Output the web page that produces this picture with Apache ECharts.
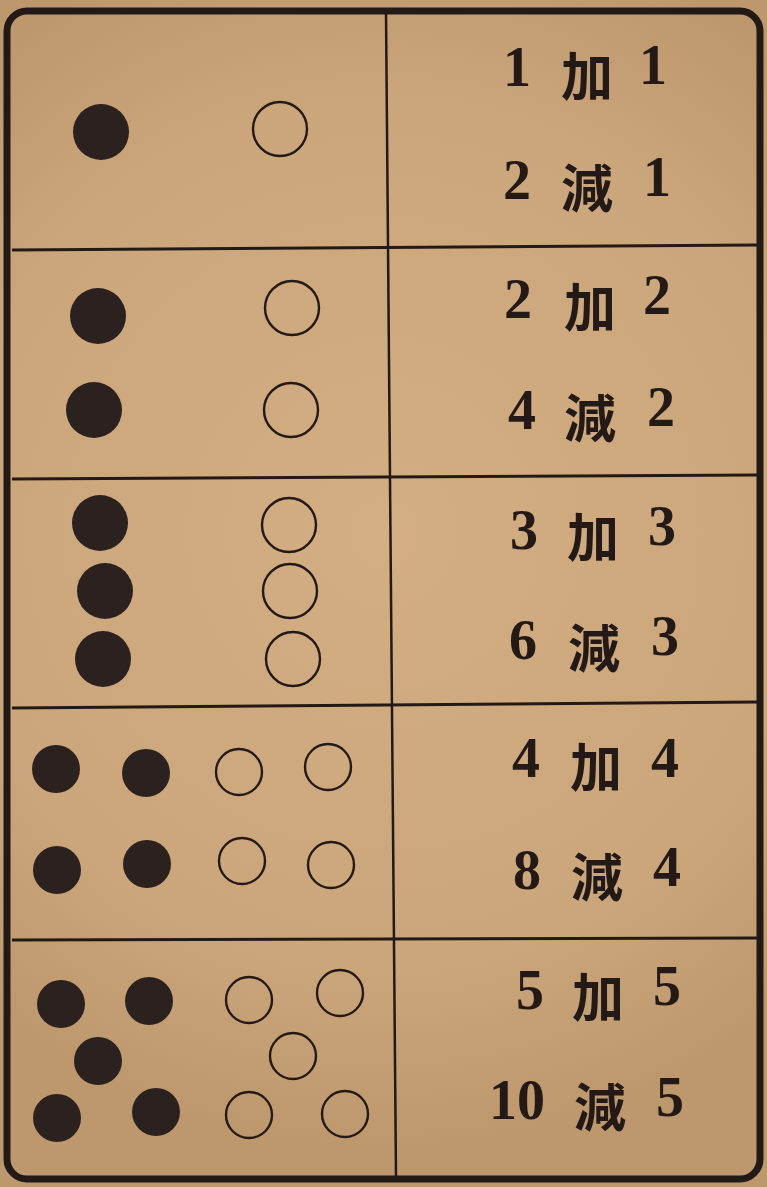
<!DOCTYPE html>
<html>
<head>
<meta charset="utf-8">
<script src="https://cdn.jsdelivr.net/npm/echarts@6/dist/echarts.min.js"></script>
<style>
html,body{margin:0;padding:0;background:#c9a57b;}
#c{width:767px;height:1187px;}
</style>
</head>
<body>
<div id="c"></div>
<script>
// ---- data ----
// filled (counted) dots: [x, y, panel]
const filledDots = [
  [101,132,1],
  [98,316,2],[94,410,2],
  [100,523,3],[105,591,3],[103,659,3],
  [56,769,4],[146,773,4],[57,870,4],[147,864,4],
  [61,1004,5],[149,1001,5],[98,1061,5],[57,1118,5],[156,1112,5]
];
// hollow dots: [x, y, panel]
const hollowDots = [
  [280,129,1],
  [292,308,2],[291,410,2],
  [289,525,3],[290,591,3],[293,659,3],
  [239,772,4],[328,767,4],[242,861,4],[331,865,4],
  [249,1000,5],[340,993,5],[293,1056,5],[249,1115,5],[345,1114,5]
];
// expressions: left operand, operator, right operand
const leftNums  = ["1","2","2","4","3","6","4","8","5","10"];
const operators = ["加","減","加","減","加","減","加","減","加","減"];
const rightNums = ["1","1","2","2","3","3","4","4","5","5"];
// anchor positions of each token per row
const leftPos  = [[517,69],[517,182],[518,301],[522,412],[524,532],[523,642],[526,760],[527,872],[530,992],[517,1102]];
const opPos    = [[587,76],[587,188],[590,307],[590,418],[593,537],[594,648],[596,767],[597,877],[598,997],[600,1107]];
const rightPos = [[653,67],[657,179],[657,297],[661,409],[662,528],[665,638],[665,760],[667,869],[667,988],[670,1099]];
// frame rules (scanned page is slightly skewed)
const dividerLines = [
  [[12,250],[757,245]],
  [[12,479],[757,475]],
  [[12,708],[757,702]],
  [[12,940],[757,938]]
];
const centerLine = [[386,12],[396,1177]];

// ---- styles ----
const INK = '#231a17';
const bigDot = 56, smallDot = 48;
const sizeOf = p => (p <= 3 ? bigDot : smallDot);

const chart = echarts.init(document.getElementById('c'), null, {renderer:'canvas'});

function textSeries(tokens, pos, font, size, weight, dy){
  return {
    type:'scatter', symbolSize:1, itemStyle:{color:'rgba(0,0,0,0)', opacity:1}, z:5,
    data: tokens.map((t,i)=>({name:t, value:pos[i]})),
    label:{show:true, position:'inside', formatter:'{b}', color:INK, opacity:1,
      textBorderWidth:0, offset:[0,dy],
      fontFamily:font, fontSize:size, fontWeight:weight},
    emphasis:{disabled:true},
    silent:true
  };
}

chart.setOption({
  animation:false,
  backgroundColor:'transparent',
  grid:{left:0,right:0,top:0,bottom:0},
  xAxis:{type:'value',min:0,max:767,show:false},
  yAxis:{type:'value',min:0,max:1187,inverse:true,show:false},
  graphic:[
    {type:'rect', z:-10, silent:true, shape:{x:0,y:0,width:767,height:1187},
     style:{fill:{type:'radial',x:0.5,y:0.45,r:0.8,colorStops:[
       {offset:0,color:'#d3ae82'},{offset:0.7,color:'#cba67a'},{offset:1,color:'#bd986d'}]}}},
    {type:'rect', z:1, silent:true, shape:{x:7,y:11,width:753,height:1168,r:20},
     style:{fill:null, stroke:INK, lineWidth:7}}
  ],
  series:[
    {type:'lines', coordinateSystem:'cartesian2d', silent:true, z:2,
     lineStyle:{color:INK, width:3, opacity:1},
     data: dividerLines.map(c=>({coords:c}))},
    {type:'lines', coordinateSystem:'cartesian2d', silent:true, z:2,
     lineStyle:{color:INK, width:2.5, opacity:1},
     data:[{coords:centerLine}]},
    {type:'scatter', silent:true, z:3,
     data: filledDots.map(d=>({value:[d[0],d[1]], symbolSize:sizeOf(d[2])})),
     itemStyle:{color:'#2b211e', opacity:1}},
    {type:'scatter', silent:true, z:3,
     data: hollowDots.map(d=>({value:[d[0],d[1]], symbolSize:sizeOf(d[2])-2})),
     itemStyle:{color:'rgba(0,0,0,0)', borderColor:INK, borderWidth:2.4, opacity:1}},
    textSeries(leftNums, leftPos, '"Liberation Serif","DejaVu Serif",serif', 56, 'bold', 3),
    textSeries(operators, opPos, '"Noto Sans CJK JP","Noto Sans CJK TC",sans-serif', 52, 'bold', 0),
    textSeries(rightNums, rightPos, '"Liberation Serif","DejaVu Serif",serif', 56, 'bold', 3)
  ]
});
</script>
</body>
</html>
